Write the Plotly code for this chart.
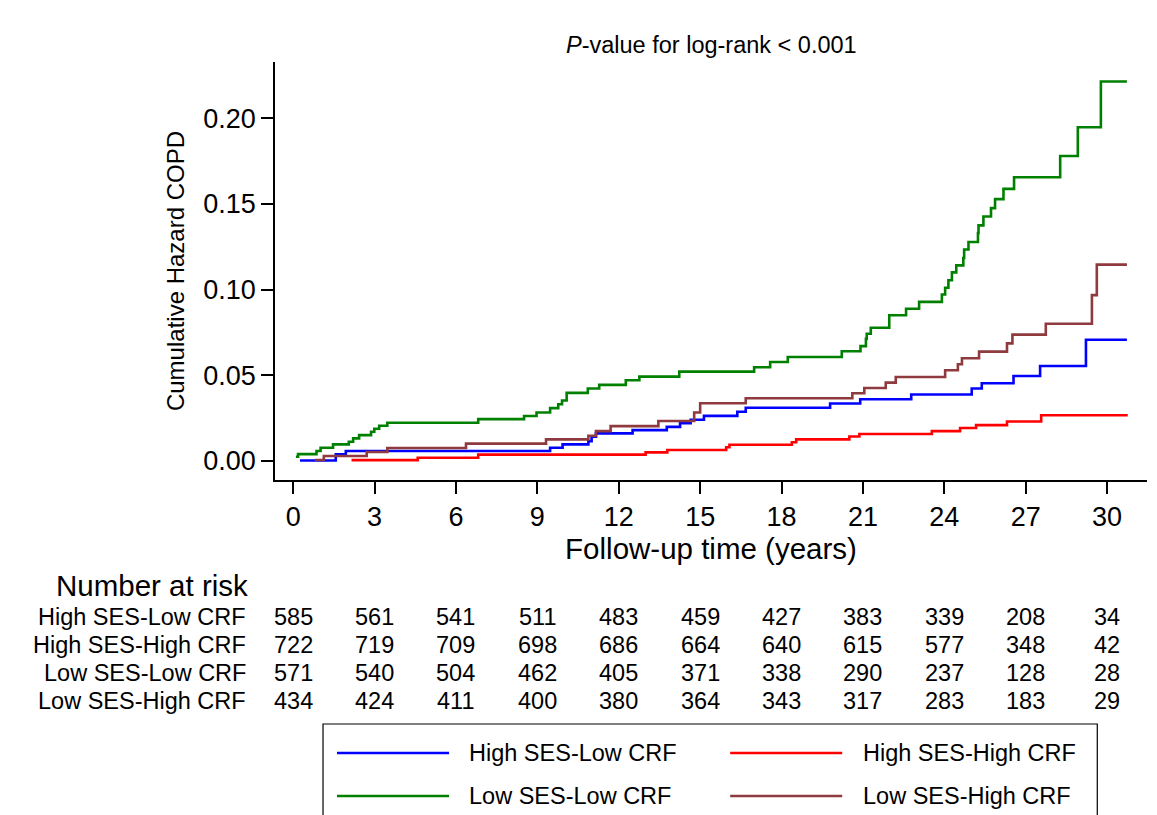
import plotly.graph_objects as go

# ---------------- data ----------------
groups = ["High SES-Low CRF", "High SES-High CRF", "Low SES-Low CRF", "Low SES-High CRF"]
colors = ["#0000FF", "#FF0000", "#008000", "#8E3A3E"]

# step-function event times (years) and cumulative hazard values
t_hs_lc = [0.25, 1.57, 1.94, 9.47, 9.93, 10.88, 11.00, 11.16, 12.51, 13.77, 14.26, 14.65, 15.14,
           16.37, 16.68, 19.79, 20.90, 22.78, 25.01, 25.38, 26.55, 27.53, 29.22, 30.73]
h_hs_lc = [0.0003, 0.0039, 0.0058, 0.0077, 0.0097, 0.0116, 0.0141, 0.0161, 0.0180, 0.0199, 0.0221, 0.0240, 0.0263,
           0.0287, 0.0310, 0.0335, 0.0360, 0.0388, 0.0423, 0.0453, 0.0496, 0.0554, 0.0707, 0.0707]

t_hs_hc = [2.15, 4.59, 6.82, 12.99, 13.79, 15.96, 16.08, 18.38, 18.54, 20.50, 20.87, 23.54, 24.58,
           25.17, 26.31, 27.57, 30.76]
h_hs_hc = [0.0005, 0.0019, 0.0037, 0.0050, 0.0064, 0.0080, 0.0095, 0.0109, 0.0126, 0.0143, 0.0157, 0.0174, 0.0192,
           0.0209, 0.0230, 0.0267, 0.0267]

t_ls_lc = [0.10, 0.18, 0.86, 1.01, 1.47, 2.05, 2.21, 2.43, 2.87, 2.99, 3.17, 3.47, 6.82, 8.51, 8.97,
           9.47, 9.77, 9.91, 10.08, 10.86, 11.28, 12.26, 12.76, 14.23, 16.99, 17.58, 18.23, 20.22, 20.91,
           21.11, 21.14, 21.29, 21.97, 22.59, 23.07, 23.91, 24.03, 24.15, 24.28, 24.44, 24.70, 24.73, 24.89,
           25.24, 25.26, 25.44, 25.72, 25.87, 26.18, 26.57, 28.27, 28.92, 29.77, 30.73]
h_ls_lc = [0.0025, 0.0040, 0.0058, 0.0077, 0.0097, 0.0112, 0.0132, 0.0151, 0.0170, 0.0188, 0.0205, 0.0223, 0.0244,
           0.0262, 0.0283, 0.0308, 0.0331, 0.0353, 0.0397, 0.0423, 0.0444, 0.0471, 0.0492, 0.0521, 0.0547, 0.0577,
           0.0606, 0.0640, 0.0670, 0.0713, 0.0742, 0.0777, 0.0850, 0.0888, 0.0928, 0.0971, 0.1010, 0.1054, 0.1100,
           0.1141, 0.1184, 0.1233, 0.1277, 0.1330, 0.1374, 0.1426, 0.1475, 0.1527, 0.1587, 0.1655, 0.1779, 0.1946,
           0.2213, 0.2213]

t_ls_hc = [0.80, 1.13, 2.71, 3.47, 6.37, 9.32, 10.88, 11.16, 11.70, 13.46, 14.78, 15.00, 16.68, 20.61,
           21.05, 21.84, 22.21, 24.03, 24.50, 24.65, 25.28, 26.31, 26.51, 27.74, 29.44, 29.62, 30.73]
h_ls_hc = [0.0006, 0.0029, 0.0052, 0.0076, 0.0101, 0.0126, 0.0147, 0.0174, 0.0203, 0.0233, 0.0283, 0.0337, 0.0366,
           0.0395, 0.0426, 0.0457, 0.0490, 0.0529, 0.0564, 0.0599, 0.0638, 0.0686, 0.0737, 0.0800, 0.0967, 0.1145,
           0.1145]

risk_times = [0, 3, 6, 9, 12, 15, 18, 21, 24, 27, 30]
risk_hs_lc = [585, 561, 541, 511, 483, 459, 427, 383, 339, 208, 34]
risk_hs_hc = [722, 719, 709, 698, 686, 664, 640, 615, 577, 348, 42]
risk_ls_lc = [571, 540, 504, 462, 405, 371, 338, 290, 237, 128, 28]
risk_ls_hc = [434, 424, 411, 400, 380, 364, 343, 317, 283, 183, 29]

y_ticks = [0.0, 0.05, 0.10, 0.15, 0.20]

# ---------------- layout helpers ----------------
W, H = 1157, 815
OFF = 8  # default page body margin
L, R, T, B = 275, 1146.7, 62, 480  # plot area in absolute page pixels
FONT = "Liberation Sans, Arial, sans-serif"

def px_x(p):
    return (p - L) / (R - L)

def px_y(p):
    return (B - p) / (B - T)

series = [(t_hs_lc, h_hs_lc), (t_hs_hc, h_hs_hc), (t_ls_lc, h_ls_lc), (t_ls_hc, h_ls_hc)]
risks = [risk_hs_lc, risk_hs_hc, risk_ls_lc, risk_ls_hc]

fig = go.Figure()
for name, col, (tt, hh) in zip(groups, colors, series):
    fig.add_trace(go.Scatter(x=tt, y=hh, mode="lines", name=name, line=dict(color=col, width=2.6, shape="hv"),
                             showlegend=False))

annotations = []
shapes = []

# title
annotations.append(dict(text="<i>P</i>-value for log-rank &lt; 0.001", xref="paper", yref="paper",
                        x=0.5, y=px_y(45), xanchor="center", yanchor="middle", showarrow=False,
                        font=dict(size=23.5, family=FONT, color="black")))

# number at risk table
annotations.append(dict(text="Number at risk", xref="paper", yref="paper", x=px_x(250), y=px_y(585),
                        xanchor="right", yanchor="middle", showarrow=False,
                        font=dict(size=29.5, family=FONT, color="black")))
row_y = [617, 645, 673, 701]
for g, rv, ry in zip(groups, risks, row_y):
    annotations.append(dict(text=g, xref="paper", yref="paper", x=px_x(248), y=px_y(ry),
                            xanchor="right", yanchor="middle", showarrow=False,
                            font=dict(size=23.5, family=FONT, color="black")))
    for tx, n in zip(risk_times, rv):
        annotations.append(dict(text=str(n), xref="x", yref="paper", x=tx, y=px_y(ry),
                                xanchor="center", yanchor="middle", showarrow=False,
                                font=dict(size=23.5, family=FONT, color="black")))

# legend (manual, long line samples)
shapes.append(dict(type="rect", xref="paper", yref="paper", x0=px_x(323), x1=px_x(1097),
                   y0=px_y(724), y1=px_y(840), line=dict(color="black", width=1.2), fillcolor="rgba(0,0,0,0)"))
leg_pos = [(337, 449, 467, 753), (730, 842, 861, 753), (337, 449, 467, 796), (730, 842, 861, 796)]
for g, col, (lx0, lx1, tx, ly) in zip(groups, colors, leg_pos):
    shapes.append(dict(type="line", xref="paper", yref="paper", x0=px_x(lx0), x1=px_x(lx1),
                       y0=px_y(ly), y1=px_y(ly), line=dict(color=col, width=2.5)))
    annotations.append(dict(text=g, xref="paper", yref="paper", x=px_x(tx), y=px_y(ly),
                            xanchor="left", yanchor="middle", showarrow=False,
                            font=dict(size=23.5, family=FONT, color="black")))

fig.update_layout(
    width=W, height=H,
    margin=dict(l=L - OFF, r=W - (R - OFF), t=T - OFF, b=H - (B - OFF)),
    paper_bgcolor="white", plot_bgcolor="white",
    font=dict(family=FONT, color="black"),
    annotations=annotations, shapes=shapes,
    xaxis=dict(range=[-0.67, 31.47], tickvals=risk_times, showgrid=False, zeroline=False,
               showline=True, linecolor="black", linewidth=1.5, ticks="outside", ticklen=12,
               tickwidth=1.5, tickcolor="black", tickfont=dict(size=27, family=FONT),
               title=dict(text="Follow-up time (years)", font=dict(size=29.5, family=FONT), standoff=0)),
    yaxis=dict(range=[-0.0111, 0.2327], tickvals=y_ticks, tickformat=".2f", showgrid=False, zeroline=False,
               showline=True, linecolor="black", linewidth=1.5, ticks="outside", ticklen=12,
               tickwidth=1.5, tickcolor="black", tickfont=dict(size=27, family=FONT),
               title=dict(text="Cumulative Hazard COPD", font=dict(size=24, family=FONT), standoff=12)),
)

fig.write_html("out.html")
